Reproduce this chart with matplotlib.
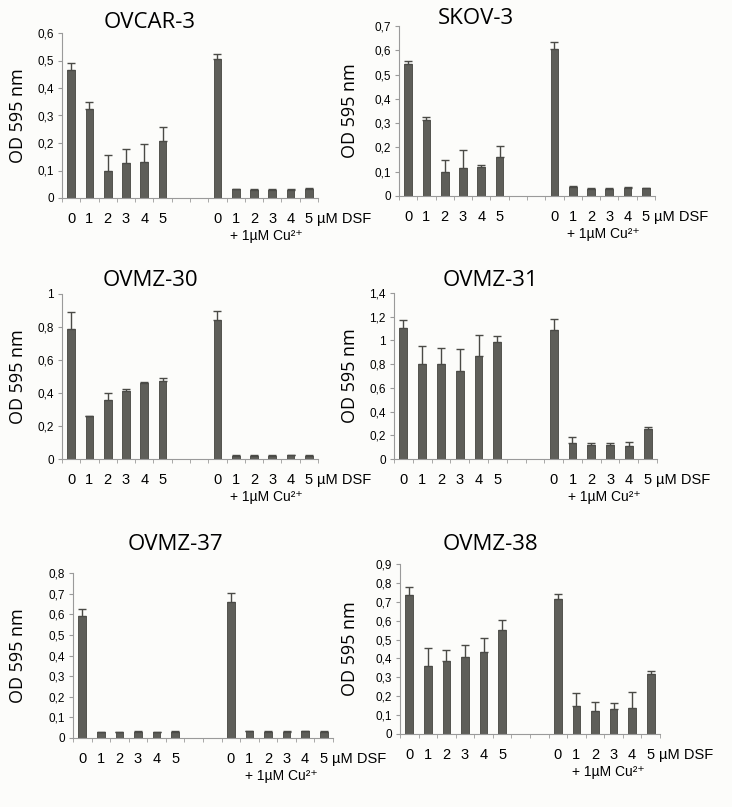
import matplotlib.pyplot as plt
import matplotlib.transforms as mtransforms
from matplotlib.ticker import FuncFormatter

# DSF concentrations (µM), two groups: without / with 1 µM Cu2+
doses = ["0", "1", "2", "3", "4", "5"]

titles = ["OVCAR-3", "SKOV-3", "OVMZ-30", "OVMZ-31", "OVMZ-37", "OVMZ-38"]

# mean OD values: first 6 = DSF alone, last 6 = DSF + Cu
ovcar3 = [0.467, 0.325, 0.097, 0.127, 0.130, 0.208, 0.507, 0.031, 0.029, 0.030, 0.029, 0.033]
ovcar3_err = [0.024, 0.025, 0.059, 0.050, 0.065, 0.052, 0.017, 0.002, 0.002, 0.002, 0.002, 0.003]

skov3 = [0.545, 0.315, 0.100, 0.115, 0.118, 0.160, 0.605, 0.037, 0.030, 0.030, 0.033, 0.032]
skov3_err = [0.009, 0.011, 0.050, 0.073, 0.011, 0.045, 0.030, 0.005, 0.002, 0.002, 0.003, 0.002]

ovmz30 = [0.790, 0.260, 0.360, 0.412, 0.459, 0.473, 0.842, 0.020, 0.020, 0.021, 0.022, 0.020]
ovmz30_err = [0.103, 0.003, 0.038, 0.014, 0.006, 0.016, 0.058, 0.002, 0.002, 0.002, 0.002, 0.002]

ovmz31 = [1.104, 0.797, 0.797, 0.740, 0.870, 0.986, 1.085, 0.135, 0.121, 0.121, 0.110, 0.250]
ovmz31_err = [0.065, 0.152, 0.143, 0.190, 0.178, 0.054, 0.092, 0.054, 0.017, 0.017, 0.031, 0.018]

ovmz37 = [0.590, 0.028, 0.028, 0.030, 0.028, 0.030, 0.658, 0.033, 0.030, 0.030, 0.032, 0.030]
ovmz37_err = [0.036, 0.002, 0.002, 0.002, 0.002, 0.002, 0.047, 0.002, 0.002, 0.002, 0.002, 0.002]

ovmz38 = [0.734, 0.358, 0.388, 0.407, 0.434, 0.550, 0.713, 0.150, 0.120, 0.130, 0.139, 0.319]
ovmz38_err = [0.046, 0.099, 0.055, 0.062, 0.072, 0.055, 0.026, 0.067, 0.048, 0.034, 0.081, 0.014]

values = [ovcar3, skov3, ovmz30, ovmz31, ovmz37, ovmz38]
errors = [ovcar3_err, skov3_err, ovmz30_err, ovmz31_err, ovmz37_err, ovmz38_err]
ymax = [0.6, 0.7, 1.0, 1.4, 0.8, 0.9]
ystep = [0.1, 0.1, 0.2, 0.2, 0.1, 0.1]

W, H = 732, 807
fig = plt.figure(figsize=(W / 100, H / 100), dpi=100, facecolor='#fcfcfa')

# axes boxes in pixels: left, right, top, bottom
boxes = [(62, 318, 33, 198), (399, 655, 26, 196),
         (62, 318, 294, 459), (394, 657, 293, 459),
         (73, 333, 573, 738), (400, 660, 564, 734)]
title_pos = [(150, 22), (476, 18), (150, 280), (490, 280), (175, 545), (490, 545)]
ylab_x = [18, 350, 18, 350, 18, 350]

# bar slots: group 1 at 0..5, two empty slots, group 2 at 8..13
xpos = list(range(6)) + list(range(8, 14))

bar_color = '#5e5e59'
axis_color = '#9a9a9a'
tick_font = ['Liberation Sans', 'DejaVu Sans']
title_font = 'Open Sans'

for i in range(6):
    l, r, t, b = boxes[i]
    ax = fig.add_axes([l / W, 1 - b / H, (r - l) / W, (b - t) / H])
    ax.set_facecolor('none')
    vals = values[i]
    errs = errors[i]
    ax.bar(xpos, vals, width=0.42, color=bar_color, edgecolor='#45453f', linewidth=0.6, zorder=2)
    ax.errorbar(xpos, vals, yerr=[[0] * len(vals), errs], fmt='none', ecolor='#4a4a46',
                elinewidth=1.0, capsize=3, capthick=1.0, zorder=3)

    ax.set_xlim(-0.5, 13.5)
    ax.set_ylim(0, ymax[i])
    n = int(round(ymax[i] / ystep[i]))
    ax.set_yticks([k * ystep[i] for k in range(n + 1)])
    ax.yaxis.set_major_formatter(FuncFormatter(
        lambda v, p: '0' if abs(v) < 1e-9 else ('%g' % round(v, 2)).replace('.', ',')))

    # category labels under bars, tick marks at slot boundaries
    ax.set_xticks(xpos)
    ax.set_xticklabels(doses + doses, fontsize=10.5, family=tick_font)
    ax.tick_params(axis='x', length=0, pad=10)
    ax.set_xticks([k - 0.5 for k in range(15)], minor=True)
    ax.tick_params(axis='x', which='minor', length=3, color=axis_color, direction='out')
    ax.tick_params(axis='y', length=3, color=axis_color, labelsize=8.5, pad=3)
    for lab in ax.get_yticklabels():
        lab.set_family(tick_font)

    for s in ['top', 'right']:
        ax.spines[s].set_visible(False)
    for s in ['left', 'bottom']:
        ax.spines[s].set_color(axis_color)
        ax.spines[s].set_linewidth(0.8)

    trans = mtransforms.blended_transform_factory(ax.transData, ax.transAxes)
    ax.annotate('µM DSF', xy=(13, 0), xycoords=trans, xytext=(6, -10),
                textcoords='offset points', ha='left', va='top',
                fontsize=10.5, family=tick_font)
    ax.annotate('+ 1µM Cu²⁺', xy=(10.7, 0), xycoords=trans, xytext=(0, -22),
                textcoords='offset points', ha='center', va='top',
                fontsize=10, family=tick_font)

    tx, ty = title_pos[i]
    fig.text(tx / W, 1 - ty / H, titles[i], ha='center', va='center',
             fontsize=16, family=title_font)
    fig.text(ylab_x[i] / W, 1 - ((t + b) / 2) / H, 'OD 595 nm', rotation=90,
             ha='center', va='center', fontsize=13, family=title_font)

fig.savefig('out.png', dpi=100, facecolor=fig.get_facecolor())
